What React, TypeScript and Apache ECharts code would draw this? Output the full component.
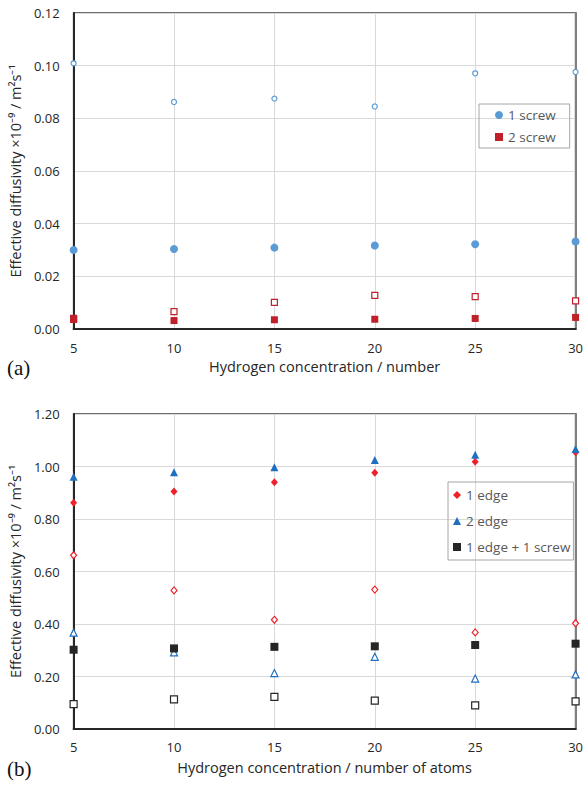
import React, { useEffect, useRef } from "react";
import * as echarts from "echarts";

const xValues = [5, 10, 15, 20, 25, 30];

// Panel (a)
const screw1Filled = [0.030, 0.0304, 0.0309, 0.0317, 0.0322, 0.0332];
const screw1Open = [0.1009, 0.0862, 0.0875, 0.0845, 0.0971, 0.0976];
const screw2Filled = [0.0036, 0.0032, 0.0035, 0.0037, 0.0040, 0.0044];
const screw2Open = [0.0040, 0.0066, 0.0101, 0.0128, 0.0123, 0.0107];

// Panel (b)
const edge1Filled = [0.862, 0.905, 0.940, 0.976, 1.018, 1.054];
const edge1Open = [0.662, 0.528, 0.416, 0.531, 0.368, 0.403];
const edge2Filled = [0.961, 0.978, 0.997, 1.025, 1.045, 1.067];
const edge2Open = [0.367, 0.292, 0.213, 0.275, 0.192, 0.208];
const mixFilled = [0.302, 0.307, 0.313, 0.315, 0.320, 0.325];
const mixOpen = [0.095, 0.113, 0.122, 0.108, 0.090, 0.105];

const yTicksA = { min: 0, max: 0.12, interval: 0.02 };
const yTicksB = { min: 0, max: 1.2, interval: 0.2 };

const FONT = "'Open Sans', sans-serif";
const DARK = "#262626";
const GRID = "#d9d9d9";
const BLUE_LIGHT = "#5b9bd5";
const RED_DARK = "#c0202a";
const RED = "#f0202a";
const BLUE = "#1f6fc0";
const BLACK = "#262626";

const pts = (arr: number[]) => xValues.map((x, i) => [x, arr[i]]);

const yName = "Effective diffusivity ×10⁻⁹ / m²s⁻¹";

function xAxisFor(gridIndex: number, name: string, nameGap: number, margin: number) {
  return {
    gridIndex,
    type: "value",
    min: 5,
    max: 30,
    interval: 5,
    axisLine: { show: true, lineStyle: { color: DARK, width: 2 } },
    axisTick: { show: false },
    axisLabel: { color: DARK, fontSize: 13, margin, fontFamily: FONT },
    splitLine: { show: true, lineStyle: { color: GRID, width: 1 } },
    name,
    nameLocation: "middle",
    nameGap,
    nameTextStyle: { color: DARK, fontSize: 14.5, fontFamily: FONT },
  };
}

function yAxisFor(gridIndex: number, t: { min: number; max: number; interval: number }) {
  return {
    gridIndex,
    type: "value",
    min: t.min,
    max: t.max,
    interval: t.interval,
    axisLine: { show: true, lineStyle: { color: DARK, width: 2 } },
    axisTick: { show: false },
    axisLabel: {
      color: DARK,
      fontSize: 13,
      margin: 14,
      fontFamily: FONT,
      formatter: (v: number) => v.toFixed(2),
    },
    splitLine: { show: true, lineStyle: { color: GRID, width: 1 } },
    name: yName,
    nameLocation: "middle",
    nameGap: 42,
    nameRotate: 90,
    nameTextStyle: { color: DARK, fontSize: 14.5, fontFamily: FONT },
  };
}

function rightAxisFor(gridIndex: number, t: { min: number; max: number; interval: number }) {
  return {
    gridIndex,
    type: "value",
    position: "right",
    min: t.min,
    max: t.max,
    interval: t.interval,
    axisLine: { show: true, lineStyle: { color: "#808080", width: 2 } },
    axisTick: { show: false },
    axisLabel: { show: false },
    splitLine: { show: false },
  };
}

function filled(name: string, xi: number, yi: number, data: number[], symbol: string, size: any, color: string) {
  return {
    name,
    type: "scatter",
    xAxisIndex: xi,
    yAxisIndex: yi,
    data: pts(data),
    symbol,
    symbolSize: size,
    clip: false,
    z: 3,
    itemStyle: { color, opacity: 1 },
  };
}

function open(name: string, xi: number, yi: number, data: number[], symbol: string, size: any, color: string) {
  return {
    name,
    type: "scatter",
    xAxisIndex: xi,
    yAxisIndex: yi,
    data: pts(data),
    symbol,
    symbolSize: size,
    clip: false,
    z: 2,
    itemStyle: { color: "#ffffff", borderColor: color, borderWidth: 1.2, opacity: 1 },
  };
}

export default function App() {
  const ref = useRef<HTMLDivElement>(null);
  useEffect(() => {
    const chart = echarts.init(ref.current as HTMLDivElement, null, { renderer: "svg" });
    const option: any = {
      animation: false,
      backgroundColor: "#ffffff",
      textStyle: { fontFamily: FONT },
      grid: [
        { left: 70, top: 13, width: 507, height: 316, show: true, borderColor: "#404040", borderWidth: 1.5 },
        { left: 70, top: 414, width: 507, height: 315, show: true, borderColor: "#404040", borderWidth: 1.5 },
      ],
      xAxis: [
        xAxisFor(0, "Hydrogen concentration / number", 30, 12),
        xAxisFor(1, "Hydrogen concentration / number of atoms", 31, 11),
      ],
      yAxis: [yAxisFor(0, yTicksA), yAxisFor(1, yTicksB), rightAxisFor(0, yTicksA), rightAxisFor(1, yTicksB)],
      legend: [
        {
          data: ["1 screw", "2 screw"],
          orient: "vertical",
          left: 479,
          top: 104,
          itemWidth: 8,
          itemHeight: 8,
          itemGap: 8,
          padding: [4, 14, 4, 16],
          borderColor: "#a6a6a6",
          borderWidth: 1,
          textStyle: { color: "#595959", fontSize: 13.5, fontFamily: FONT },
        },
        {
          data: ["1 edge", "2 edge", "1 edge + 1 screw"],
          orient: "vertical",
          left: 448,
          top: 482,
          itemWidth: 8,
          itemHeight: 8,
          itemGap: 12,
          padding: [6, 3, 6, 5],
          borderColor: "#a6a6a6",
          borderWidth: 1,
          textStyle: { color: "#595959", fontSize: 13.5, fontFamily: FONT },
        },
      ],
      graphic: [
        {
          type: "text",
          left: 7,
          top: 357,
          style: { text: "(a)", font: "21px 'Liberation Serif', serif", fill: "#111" },
        },
        {
          type: "text",
          left: 7,
          top: 758,
          style: { text: "(b)", font: "21px 'Liberation Serif', serif", fill: "#111" },
        },
      ],
      series: [
        open("1 screw open", 0, 0, screw1Open, "circle", 5, BLUE_LIGHT),
        open("2 screw open", 0, 0, screw2Open, "rect", 6, RED_DARK),
        filled("1 screw", 0, 0, screw1Filled, "circle", 8, BLUE_LIGHT),
        filled("2 screw", 0, 0, screw2Filled, "rect", 7, RED_DARK),
        open("1 edge open", 1, 1, edge1Open, "diamond", [6, 7], RED),
        open("2 edge open", 1, 1, edge2Open, "triangle", [7, 7], BLUE),
        open("1 edge + 1 screw open", 1, 1, mixOpen, "rect", 7, BLACK),
        filled("1 edge", 1, 1, edge1Filled, "diamond", [7, 8], RED),
        filled("2 edge", 1, 1, edge2Filled, "triangle", [8, 8], BLUE),
        filled("1 edge + 1 screw", 1, 1, mixFilled, "rect", 8, BLACK),
      ],
    };
    chart.setOption(option);
    return () => chart.dispose();
  }, []);
  return (
    <div
      ref={ref}
      style={{ position: "fixed", left: 0, top: 0, width: 586, height: 785, background: "#fff" }}
    />
  );
}
